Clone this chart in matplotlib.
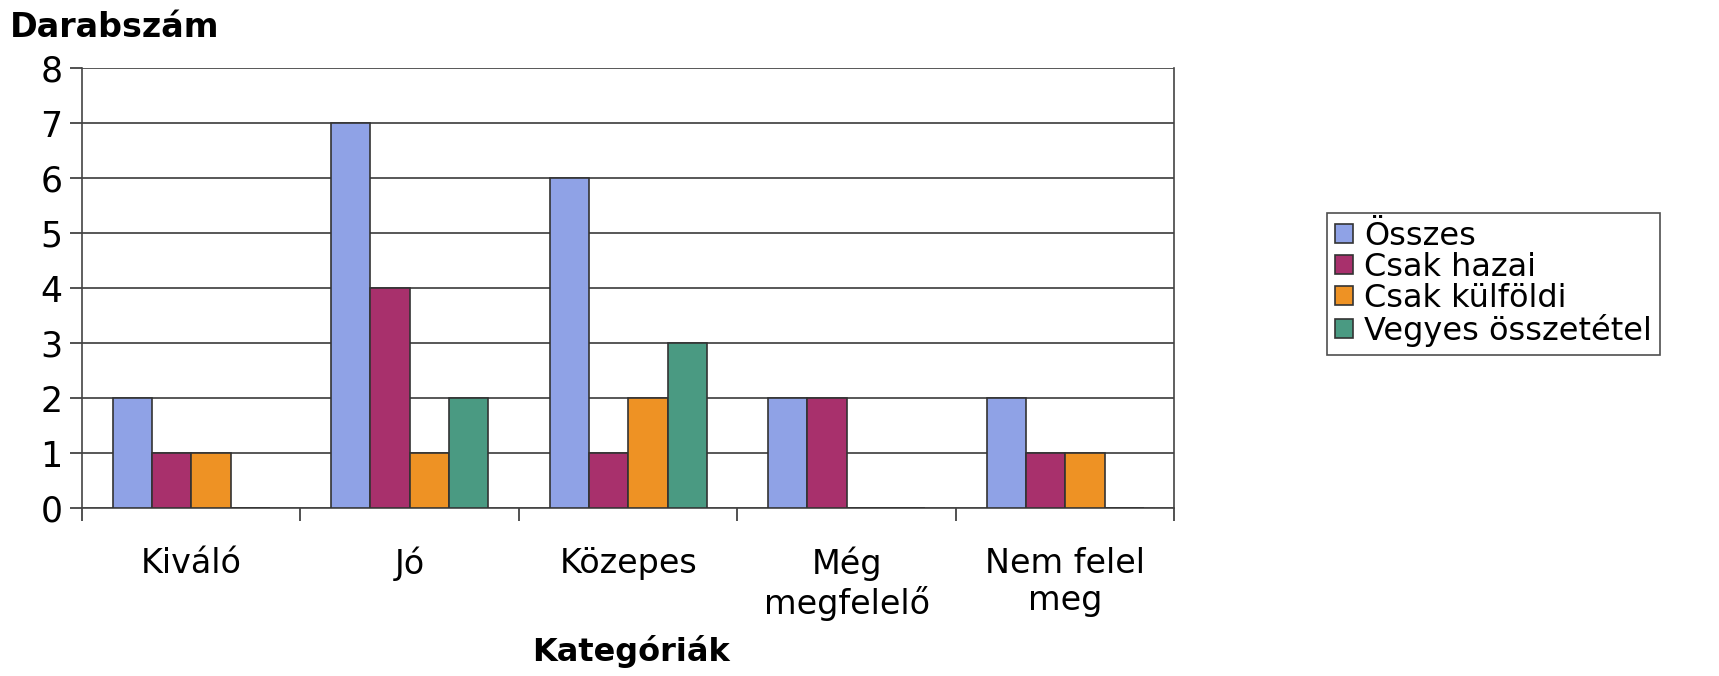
import numpy as np
import matplotlib
matplotlib.use("Agg")
import matplotlib.pyplot as plt

plt.rcParams['font.family'] = ['DejaVu Sans']

categories = ["Kiváló", "Jó", "Közepes", "Még\nmegfelelő", "Nem felel\nmeg"]
series_names = ["Összes", "Csak hazai", "Csak külföldi", "Vegyes összetétel"]
osszes = [2, 7, 6, 2, 2]
csak_hazai = [1, 4, 1, 2, 1]
csak_kulfoldi = [1, 1, 2, 0, 1]
vegyes = [0, 2, 3, 0, 0]
colors = ["#8fa2e6", "#a8306c", "#ee9224", "#4a9a82"]

fig = plt.figure(figsize=(17.19, 6.76), dpi=100)
ax = fig.add_axes([0.0477, 0.2485, 0.6355, 0.6505])

x = np.arange(len(categories))
w = 0.18
for i, vals in enumerate([osszes, csak_hazai, csak_kulfoldi, vegyes]):
    ax.bar(x + (i - 1.5) * w, vals, width=w, color=colors[i], edgecolor="#333333",
           linewidth=1.2, label=series_names[i], zorder=3)

ax.set_xlim(-0.5, len(categories) - 0.5)
ax.set_ylim(0, 8)
ax.set_yticks(range(0, 9))
ax.yaxis.grid(True, color="#2a2a2a", linewidth=1.1, zorder=0)
ax.set_xticks(x)
ax.set_xticklabels(categories, fontsize=24, linespacing=1.15)
ax.set_xticks(np.arange(-0.5, len(categories)), minor=True)
ax.tick_params(axis='x', which='major', length=0, pad=28)
ax.tick_params(axis='x', which='minor', length=9, width=1.2, color="#333333")
ax.tick_params(axis='y', labelsize=25, length=9, width=1.2, color="#333333", pad=5)

ax.spines["top"].set_visible(False)
for s in ["left", "bottom", "right"]:
    ax.spines[s].set_color("#444444")
    ax.spines[s].set_linewidth(1.2)

fig.text(0.006, 0.96, "Darabszám", fontsize=24, fontweight="bold", ha="left", va="center")
fig.text(0.367, 0.012, "Kategóriák", fontsize=23, fontweight="bold", ha="center", va="bottom")

leg = fig.legend(loc="upper left", bbox_to_anchor=(0.772, 0.685), fontsize=23,
                 frameon=True, fancybox=False, edgecolor="#222222",
                 handlelength=0.55, handleheight=0.55, handletextpad=0.35,
                 labelspacing=0.0, borderpad=0.25, borderaxespad=0)
leg.get_frame().set_linewidth(1.2)

fig.savefig("out.png", dpi=100)
